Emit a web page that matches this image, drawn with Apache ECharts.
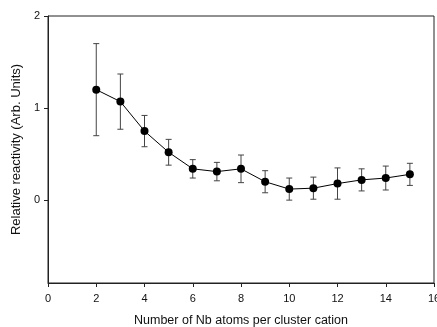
<!DOCTYPE html>
<html>
<head>
<meta charset="utf-8">
<script src="https://cdn.jsdelivr.net/npm/echarts@6/dist/echarts.min.js"></script>
<style>
  html, body { margin: 0; padding: 0; background: #fff; }
</style>
</head>
<body>
<div id="main" style="width:437px;height:327px"></div>
<script>
// cluster sizes (number of Nb atoms)
var atoms = [2, 3, 4, 5, 6, 7, 8, 9, 10, 11, 12, 13, 14, 15];
// relative reactivity
var reactivity = [1.20, 1.07, 0.75, 0.52, 0.34, 0.31, 0.34, 0.20, 0.12, 0.13, 0.18, 0.22, 0.24, 0.28];
// error bar half-widths
var errors = [0.50, 0.30, 0.17, 0.14, 0.10, 0.10, 0.15, 0.12, 0.12, 0.12, 0.17, 0.12, 0.13, 0.12];
var yTicks = [0, 1, 2];

var font = 'Liberation Sans, Arial, sans-serif';

var lineData = [];
var errData = [];
for (var i = 0; i < atoms.length; i++) {
  lineData.push([atoms[i], reactivity[i]]);
  errData.push([atoms[i], reactivity[i] - errors[i], reactivity[i] + errors[i]]);
}

var myChart = echarts.init(document.getElementById('main'));
var option = {
  animation: false,
  grid: {
    left: 48,
    right: 3,
    top: 16,
    bottom: 44,
    outerBoundsMode: 'none',
    show: true,
    borderColor: '#222',
    borderWidth: 1
  },
  xAxis: {
    type: 'value',
    min: 0,
    max: 16,
    interval: 2,
    name: 'Number of Nb atoms per cluster cation',
    nameLocation: 'middle',
    nameGap: 31,
    nameTextStyle: { fontFamily: font, fontSize: 12.5, color: '#111' },
    axisLine: { onZero: false, lineStyle: { color: '#222' } },
    axisTick: { length: 4, lineStyle: { color: '#222' } },
    axisLabel: { fontFamily: font, fontSize: 11, color: '#111', margin: 10 },
    splitLine: { show: false }
  },
  yAxis: {
    type: 'value',
    min: -0.9,
    max: 2,
    name: 'Relative reactivity (Arb. Units)',
    nameLocation: 'middle',
    nameGap: 24,
    nameTextStyle: { fontFamily: font, fontSize: 13, color: '#111' },
    axisLine: { show: true, lineStyle: { color: '#222' } },
    axisTick: { show: true, length: 4, customValues: yTicks, lineStyle: { color: '#222' } },
    axisLabel: { fontFamily: font, fontSize: 11, color: '#111', margin: 8, customValues: yTicks },
    splitLine: { show: false }
  },
  series: [
    {
      type: 'custom',
      data: errData,
      z: 1,
      renderItem: function (params, api) {
        var x = api.value(0);
        var lo = api.coord([x, api.value(1)]);
        var hi = api.coord([x, api.value(2)]);
        var w = 3;
        var style = { stroke: '#444', lineWidth: 1 };
        return {
          type: 'group',
          children: [
            { type: 'line', shape: { x1: lo[0], y1: lo[1], x2: hi[0], y2: hi[1] }, style: style },
            { type: 'line', shape: { x1: lo[0] - w, y1: lo[1], x2: lo[0] + w, y2: lo[1] }, style: style },
            { type: 'line', shape: { x1: hi[0] - w, y1: hi[1], x2: hi[0] + w, y2: hi[1] }, style: style }
          ]
        };
      }
    },
    {
      type: 'line',
      data: lineData,
      z: 2,
      symbol: 'circle',
      symbolSize: 8,
      itemStyle: { color: '#000' },
      lineStyle: { color: '#000', width: 1 }
    }
  ]
};
myChart.setOption(option);
</script>
</body>
</html>
